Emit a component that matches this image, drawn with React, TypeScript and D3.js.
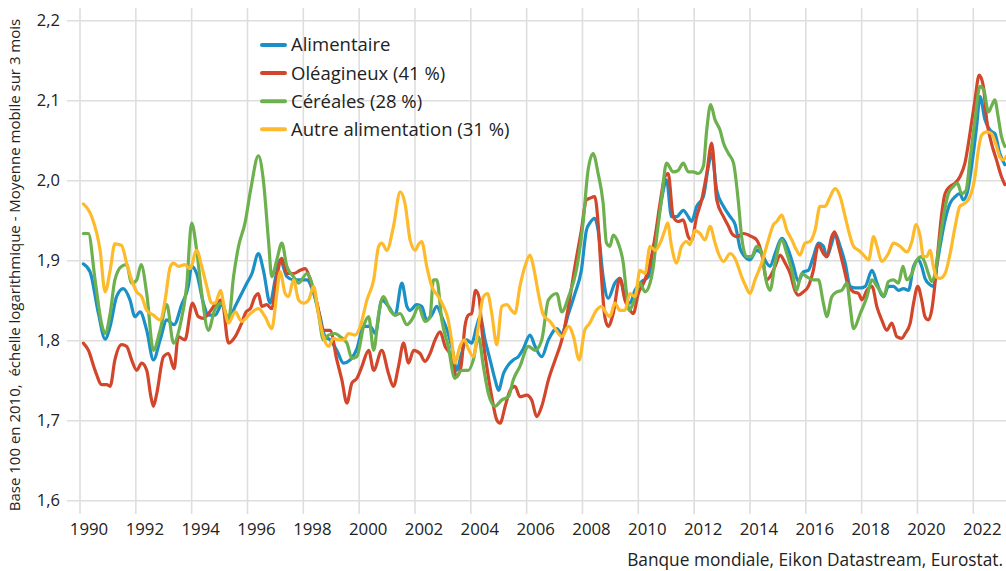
import React from "react";
import * as d3 from "d3";

// ---- Data (decimal year, value) ----
const alimentaire: [number, number][] = [
  [1990.12,1.896],[1990.36,1.886],[1990.66,1.834],[1990.9,1.802],[1991.08,1.818],[1991.31,1.855],[1991.55,1.865],[1991.79,1.851],[1991.97,1.83],[1992.15,1.836],[1992.39,1.813],[1992.63,1.776],[1992.87,1.801],[1993.11,1.826],[1993.37,1.82],[1993.64,1.845],[1993.88,1.868],[1994.0,1.893],[1994.18,1.884],[1994.42,1.847],[1994.6,1.832],[1994.84,1.832],[1995.08,1.845],[1995.32,1.826],[1995.56,1.843],[1995.79,1.859],
  [1995.98,1.872],[1996.16,1.884],[1996.39,1.909],[1996.57,1.888],[1996.81,1.847],[1996.99,1.876],[1997.17,1.901],[1997.41,1.88],[1997.65,1.876],[1997.89,1.876],[1998.13,1.876],[1998.37,1.859],[1998.6,1.83],[1998.78,1.805],[1998.96,1.801],[1999.2,1.788],[1999.44,1.772],[1999.68,1.776],[1999.92,1.79],[2000.16,1.818],[2000.4,1.818],[2000.58,1.809],[2000.81,1.851],[2001.05,1.843],[2001.29,1.832],[2001.53,1.872],[2001.71,1.843],
  [2001.82,1.838],[2002.06,1.845],[2002.24,1.843],[2002.42,1.826],[2002.6,1.832],[2002.78,1.843],[2002.96,1.83],[2003.19,1.809],[2003.37,1.784],[2003.49,1.763],[2003.67,1.784],[2003.85,1.801],[2004.03,1.797],[2004.21,1.818],[2004.33,1.83],[2004.51,1.801],[2004.69,1.776],[2004.87,1.751],[2004.99,1.738],[2005.17,1.759],[2005.35,1.77],[2005.52,1.776],[2005.7,1.78],[2005.88,1.79],[2006.12,1.807],[2006.3,1.793],[2006.54,1.78],[2006.78,1.801],[2007.08,1.815],[2007.26,1.809],[2007.5,1.834],
  [2007.73,1.859],[2007.96,1.888],[2008.14,1.938],[2008.26,1.947],[2008.44,1.953],[2008.56,1.938],[2008.74,1.88],[2008.92,1.853],[2009.16,1.872],[2009.34,1.878],[2009.52,1.855],[2009.7,1.847],[2009.88,1.863],[2010.12,1.874],[2010.36,1.88],[2010.6,1.926],[2010.83,1.976],[2011.01,2.001],[2011.19,1.955],[2011.37,1.955],[2011.61,1.963],[2011.79,1.955],[2011.91,1.949],[2012.09,1.968],[2012.33,1.98],[2012.51,2.018],[2012.63,2.034],[2012.81,1.988],[2013.05,1.968],[2013.29,1.955],[2013.47,1.945],
  [2013.65,1.915],[2013.82,1.905],[2014.0,1.901],[2014.24,1.913],[2014.42,1.909],[2014.6,1.897],[2014.72,1.893],[2014.9,1.909],[2015.14,1.928],[2015.38,1.913],[2015.56,1.893],[2015.73,1.874],[2015.91,1.886],[2016.09,1.888],[2016.27,1.905],[2016.45,1.922],[2016.63,1.918],[2016.75,1.905],[2016.93,1.922],[2017.05,1.934],[2017.23,1.918],[2017.41,1.897],[2017.59,1.868],[2017.77,1.866],[2017.95,1.866],[2018.13,1.868],[2018.37,1.888],[2018.55,1.872],[2018.72,1.857],
  [2018.79,1.855],[2018.96,1.868],[2019.14,1.868],[2019.32,1.863],[2019.5,1.865],[2019.68,1.863],[2019.86,1.893],[2020.04,1.901],[2020.15,1.893],[2020.27,1.878],[2020.45,1.87],[2020.57,1.868],[2020.69,1.893],[2020.81,1.918],[2020.99,1.951],[2021.17,1.972],[2021.35,1.98],[2021.52,1.984],[2021.64,1.976],[2021.79,1.986],[2021.94,2.018],[2022.12,2.068],[2022.24,2.105],[2022.42,2.076],[2022.6,2.063],[2022.77,2.059],[2022.95,2.034],[2023.13,2.02],
];

const oleagineux: [number, number][] = [
  [1990.12,1.797],[1990.3,1.788],[1990.54,1.763],[1990.78,1.745],[1990.96,1.745],[1991.08,1.743],[1991.25,1.776],[1991.49,1.795],[1991.67,1.793],[1991.85,1.776],[1992.03,1.763],[1992.21,1.772],[1992.39,1.763],[1992.54,1.73],[1992.63,1.718],[1992.75,1.734],[1992.99,1.78],[1993.17,1.784],[1993.37,1.765],[1993.52,1.805],[1993.76,1.801],[1994.03,1.847],[1994.24,1.83],[1994.42,1.828],[1994.6,1.834],[1994.84,1.845],[1995.08,1.851],[1995.32,1.797],[1995.56,1.805],[1995.79,1.822],[1995.95,1.836],
  [1996.1,1.84],[1996.27,1.855],[1996.39,1.859],[1996.51,1.843],[1996.69,1.845],[1996.87,1.84],[1997.05,1.88],[1997.23,1.903],[1997.41,1.884],[1997.65,1.884],[1997.89,1.888],[1998.07,1.89],[1998.25,1.876],[1998.49,1.847],[1998.72,1.813],[1998.96,1.813],[1999.2,1.776],[1999.38,1.751],[1999.56,1.722],[1999.74,1.747],[1999.92,1.753],[2000.1,1.768],[2000.34,1.788],[2000.52,1.763],[2000.81,1.788],[2001.05,1.759],[2001.23,1.743],[2001.41,1.768],[2001.59,1.797],[2001.77,1.772],[2001.95,1.788],
  [2002.18,1.784],[2002.36,1.774],[2002.54,1.784],[2002.72,1.801],[2002.9,1.811],[2003.08,1.793],[2003.31,1.78],[2003.49,1.755],[2003.65,1.768],[2003.79,1.818],[2003.91,1.832],[2004.03,1.834],[2004.17,1.863],[2004.29,1.855],[2004.41,1.809],[2004.57,1.768],[2004.75,1.73],[2004.93,1.701],[2005.05,1.697],[2005.23,1.718],[2005.41,1.738],[2005.58,1.743],[2005.76,1.73],[2006.0,1.732],[2006.18,1.726],[2006.36,1.705],[2006.54,1.718],[2006.78,1.751],[2007.02,1.776],[2007.26,1.801],[2007.5,1.843],[2007.73,1.893],
  [2007.96,1.938],[2008.14,1.976],[2008.26,1.978],[2008.44,1.98],[2008.56,1.947],[2008.68,1.88],[2008.8,1.83],[2008.92,1.818],[2009.1,1.834],[2009.34,1.878],[2009.52,1.851],[2009.7,1.838],[2009.82,1.834],[2010.0,1.859],[2010.24,1.876],[2010.42,1.897],[2010.6,1.93],[2010.78,1.972],[2010.95,2.005],[2011.07,2.009],[2011.25,1.955],[2011.43,1.949],[2011.61,1.951],[2011.79,1.93],[2011.91,1.926],[2012.09,1.955],[2012.27,1.976],[2012.45,2.009],[2012.63,2.047],[2012.81,1.976],[2013.05,1.955],[2013.23,1.943],[2013.35,1.934],[2013.53,1.93],[2013.77,1.934],
  [2014.06,1.93],[2014.24,1.926],[2014.42,1.909],[2014.6,1.876],[2014.72,1.88],[2014.9,1.893],[2015.08,1.907],[2015.26,1.897],[2015.44,1.884],[2015.61,1.863],[2015.73,1.857],[2015.91,1.861],[2016.09,1.868],[2016.27,1.888],[2016.45,1.92],[2016.63,1.909],[2016.75,1.905],[2016.93,1.93],[2017.03,1.936],[2017.17,1.918],[2017.35,1.893],[2017.53,1.868],[2017.71,1.861],[2017.89,1.859],[2018.01,1.851],[2018.19,1.863],[2018.37,1.868],[2018.55,1.842],[2018.72,1.826],[2018.9,1.813],[2019.08,1.822],[2019.26,1.805],[2019.44,1.803],
  [2019.56,1.809],[2019.74,1.822],[2019.86,1.847],[2020.01,1.868],[2020.15,1.851],[2020.27,1.83],[2020.39,1.826],[2020.51,1.838],[2020.63,1.872],[2020.75,1.918],[2020.87,1.959],[2020.99,1.984],[2021.17,1.993],[2021.35,1.997],[2021.52,2.005],[2021.7,2.022],[2021.88,2.059],[2022.06,2.101],[2022.21,2.132],[2022.36,2.118],[2022.48,2.076],[2022.65,2.047],[2022.83,2.026],[2023.01,2.005],[2023.13,1.995],
];

const cereales: [number, number][] = [
  [1990.12,1.934],[1990.3,1.934],[1990.54,1.876],[1990.78,1.82],[1990.9,1.809],[1991.08,1.834],[1991.25,1.876],[1991.49,1.893],[1991.67,1.895],[1991.85,1.872],[1992.03,1.876],[1992.19,1.895],[1992.39,1.859],[1992.63,1.788],[1992.87,1.813],[1993.11,1.845],[1993.35,1.797],[1993.58,1.818],[1993.82,1.868],[1994.0,1.947],[1994.18,1.913],[1994.36,1.859],[1994.6,1.813],[1994.84,1.84],[1995.08,1.847],[1995.32,1.826],[1995.5,1.88],[1995.68,1.918],[1995.91,1.947],[1996.12,1.99],
  [1996.39,2.031],[1996.57,2.0],[1996.75,1.926],[1996.87,1.88],[1997.05,1.901],[1997.23,1.922],[1997.41,1.893],[1997.65,1.88],[1997.83,1.872],[1998.13,1.884],[1998.37,1.863],[1998.54,1.834],[1998.72,1.801],[1998.9,1.807],[1999.14,1.809],[1999.32,1.805],[1999.56,1.797],[1999.74,1.778],[1999.92,1.78],[2000.16,1.818],[2000.34,1.83],[2000.52,1.788],[2000.7,1.834],[2000.87,1.855],[2001.11,1.838],[2001.29,1.832],[2001.47,1.834],[2001.71,1.82],[2001.95,1.83],
  [2002.12,1.843],[2002.36,1.824],[2002.54,1.83],[2002.66,1.876],[2002.78,1.876],[2002.96,1.826],[2003.19,1.793],[2003.43,1.753],[2003.67,1.763],[2003.91,1.763],[2004.09,1.776],[2004.27,1.805],[2004.45,1.768],[2004.63,1.734],[2004.87,1.718],[2005.11,1.726],[2005.35,1.73],[2005.52,1.751],[2005.76,1.768],[2006.06,1.793],[2006.3,1.788],[2006.54,1.801],[2006.78,1.851],[2007.08,1.859],[2007.26,1.836],[2007.5,1.855],
  [2007.78,1.888],[2008.02,1.947],[2008.2,2.013],[2008.38,2.034],[2008.56,2.009],[2008.74,1.972],[2008.86,1.922],[2008.98,1.918],[2009.1,1.932],[2009.28,1.922],[2009.46,1.897],[2009.58,1.859],[2009.67,1.838],[2009.82,1.847],[2010.06,1.872],[2010.24,1.861],[2010.42,1.872],[2010.54,1.893],[2010.66,1.93],[2010.83,1.976],[2011.01,2.022],[2011.25,2.011],[2011.43,2.013],[2011.61,2.022],[2011.79,2.011],[2011.97,2.011],[2012.15,2.009],[2012.33,2.018],[2012.45,2.063],[2012.59,2.095],[2012.75,2.076],[2012.93,2.063],[2013.05,2.047],[2013.23,2.034],[2013.41,2.022],
  [2013.58,1.975],[2013.7,1.93],[2013.88,1.905],[2014.06,1.905],[2014.24,1.918],[2014.42,1.909],[2014.6,1.872],[2014.72,1.863],[2014.9,1.897],[2015.14,1.926],[2015.32,1.909],[2015.5,1.888],[2015.67,1.863],[2015.85,1.884],[2016.03,1.88],[2016.27,1.876],[2016.45,1.876],[2016.63,1.847],[2016.75,1.83],[2016.93,1.855],[2017.11,1.861],[2017.29,1.863],[2017.47,1.872],[2017.59,1.842],[2017.71,1.815],[2017.95,1.834],[2018.19,1.855],[2018.37,1.876],[2018.55,1.868],[2018.72,1.859],
  [2018.79,1.855],[2018.96,1.874],[2019.14,1.876],[2019.32,1.872],[2019.48,1.893],[2019.62,1.876],[2019.8,1.884],[2019.98,1.901],[2020.15,1.905],[2020.27,1.897],[2020.39,1.884],[2020.51,1.874],[2020.63,1.884],[2020.75,1.913],[2020.93,1.955],[2021.11,1.984],[2021.29,1.993],[2021.43,1.997],[2021.58,1.984],[2021.74,1.988],[2021.88,2.026],[2022.06,2.076],[2022.24,2.118],[2022.38,2.113],[2022.54,2.086],[2022.65,2.093],[2022.77,2.101],[2022.89,2.08],[2023.01,2.055],[2023.13,2.043],
];

const autre: [number, number][] = [
  [1990.12,1.971],[1990.42,1.955],[1990.72,1.913],[1990.9,1.861],[1991.08,1.888],[1991.25,1.921],[1991.49,1.919],[1991.67,1.897],[1991.85,1.876],[1992.03,1.861],[1992.21,1.855],[1992.39,1.838],[1992.63,1.832],[1992.87,1.826],[1993.05,1.851],[1993.23,1.892],[1993.35,1.897],[1993.52,1.893],[1993.76,1.895],[1993.94,1.89],[1994.18,1.913],[1994.36,1.893],[1994.54,1.868],[1994.72,1.847],[1994.84,1.847],[1995.04,1.863],[1995.14,1.847],[1995.32,1.822],[1995.56,1.836],[1995.79,1.824],
  [1996.1,1.834],[1996.39,1.84],[1996.63,1.83],[1996.87,1.815],[1997.05,1.859],[1997.17,1.886],[1997.35,1.859],[1997.47,1.855],[1997.65,1.876],[1997.83,1.851],[1998.01,1.847],[1998.19,1.851],[1998.37,1.868],[1998.54,1.834],[1998.72,1.805],[1998.9,1.793],[1999.08,1.803],[1999.26,1.801],[1999.44,1.801],[1999.62,1.809],[1999.86,1.807],[2000.04,1.818],[2000.28,1.851],[2000.52,1.876],[2000.7,1.918],[2000.81,1.922],[2000.99,1.913],[2001.23,1.943],[2001.47,1.986],[2001.65,1.97],[2001.83,1.925],[2002.01,1.913],
  [2002.12,1.92],[2002.24,1.924],[2002.42,1.893],[2002.6,1.868],[2002.84,1.855],[2003.02,1.843],[2003.19,1.826],[2003.31,1.801],[2003.43,1.772],[2003.61,1.793],[2003.77,1.801],[2003.91,1.79],[2004.09,1.78],[2004.27,1.818],[2004.45,1.855],[2004.6,1.859],[2004.75,1.834],[2004.93,1.795],[2005.11,1.843],[2005.29,1.845],[2005.46,1.838],[2005.58,1.834],[2005.76,1.868],[2005.94,1.893],[2006.12,1.907],[2006.24,1.893],[2006.42,1.859],[2006.6,1.832],[2006.84,1.824],[2007.02,1.815],[2007.26,1.805],[2007.5,1.818],[2007.68,1.805],[2007.88,1.776],
  [2008.08,1.813],[2008.26,1.822],[2008.5,1.838],[2008.68,1.843],[2008.86,1.834],[2008.98,1.83],[2009.16,1.847],[2009.34,1.838],[2009.52,1.838],[2009.7,1.859],[2009.88,1.855],[2010.06,1.888],[2010.24,1.884],[2010.42,1.918],[2010.6,1.913],[2010.78,1.922],[2010.95,1.938],[2011.05,1.947],[2011.19,1.918],[2011.37,1.897],[2011.55,1.918],[2011.73,1.924],[2011.85,1.92],[2012.03,1.938],[2012.21,1.934],[2012.39,1.926],[2012.57,1.943],[2012.75,1.922],[2012.87,1.909],[2013.05,1.899],[2013.29,1.909],[2013.5,1.9],[2013.7,1.88],[2013.85,1.868],
  [2014.0,1.859],[2014.18,1.876],[2014.42,1.897],[2014.66,1.926],[2014.84,1.945],[2014.96,1.949],[2015.14,1.957],[2015.32,1.938],[2015.5,1.926],[2015.67,1.913],[2015.79,1.907],[2015.97,1.922],[2016.15,1.924],[2016.33,1.938],[2016.51,1.968],[2016.69,1.968],[2016.87,1.98],[2017.05,1.99],[2017.23,1.98],[2017.41,1.955],[2017.59,1.93],[2017.71,1.918],[2017.89,1.913],[2018.07,1.907],[2018.25,1.901],[2018.43,1.93],[2018.55,1.918],[2018.72,1.899],
  [2018.96,1.909],[2019.14,1.922],[2019.38,1.918],[2019.62,1.911],[2019.8,1.924],[2019.95,1.945],[2020.1,1.93],[2020.21,1.905],[2020.33,1.905],[2020.45,1.913],[2020.57,1.893],[2020.67,1.88],[2020.81,1.878],[2020.99,1.884],[2021.17,1.909],[2021.35,1.943],[2021.52,1.968],[2021.7,1.972],[2021.88,1.98],[2022.06,2.005],[2022.18,2.038],[2022.3,2.057],[2022.48,2.061],[2022.65,2.059],[2022.83,2.043],[2022.95,2.03],[2023.07,2.026],[2023.17,2.03],
];

const seriesNames = ["Alimentaire", "Oléagineux (41 %)", "Céréales (28 %)", "Autre alimentation (31 %)"];
const seriesColors = ["#1b90c7", "#d2462b", "#6cb14e", "#fdba2b"];
const seriesData = [alimentaire, oleagineux, cereales, autre];

const xTicks = d3.range(1990, 2023, 2);
const yTicks = [1.6, 1.7, 1.8, 1.9, 2.0, 2.1, 2.2];

const yTitle = "Base 100 en 2010,  échelle logarithmique - Moyenne mobile sur 3 mois";
const source = "Banque mondiale, Eikon Datastream, Eurostat.";

const W = 1006;
const H = 571;

export default function App() {
  const x = d3.scaleLinear().domain([1990, 2022]).range([80, 973.3]);
  const y = d3.scaleLinear().domain([1.6, 2.2]).range([500.7, 20.7]);
  const line = d3
    .line<[number, number]>()
    .x((d) => x(d[0]))
    .y((d) => y(d[1]))
    .curve(d3.curveMonotoneX);
  const fmt = (v: number) => v.toFixed(1).replace(".", ",");
  const font = "'Open Sans', sans-serif";

  return (
    <svg
      width={W}
      height={H}
      style={{ position: "absolute", left: 0, top: 0, background: "#fff" }}
    >
      <g>
        {xTicks.map((t) => (
          <line key={"vx" + t} x1={x(t)} x2={x(t)} y1={8} y2={514} stroke="#dedede" strokeWidth={1.6} />
        ))}
        {yTicks.map((v) => (
          <line key={"hy" + v} x1={67} x2={W} y1={y(v)} y2={y(v)} stroke="#dedede" strokeWidth={1.6} />
        ))}
      </g>
      <g fill="#222" fontFamily={font}>
        {yTicks.map((v) => (
          <text key={"yl" + v} x={60} y={y(v)} dy="0.35em" textAnchor="end" fontSize={16.5}>
            {fmt(v)}
          </text>
        ))}
        {xTicks.map((t) => (
          <text key={"xl" + t} x={x(t) + 9} y={529} dy="0.35em" textAnchor="middle" fontSize={16.8}>
            {t}
          </text>
        ))}
        <text
          transform={`translate(15, 265) rotate(-90)`}
          textAnchor="middle"
          dy="0.35em"
          fontSize={15}
          style={{ whiteSpace: "pre" }}
        >
          {yTitle}
        </text>
        <text x={1003} y={560} dy="0.35em" textAnchor="end" fontSize={17.3}>
          {source}
        </text>
      </g>
      <g fill="none" strokeLinejoin="round" strokeLinecap="round">
        {seriesData.map((s, i) => (
          <path key={"s" + i} d={line(s) || ""} stroke={seriesColors[i]} strokeWidth={3.2} />
        ))}
      </g>
      <g fontFamily={font}>
        {seriesNames.map((n, i) => (
          <g key={"lg" + i} transform={`translate(0, ${45 + i * 28.1})`}>
            <rect x={260} y={-2} width={27} height={4} rx={2} fill={seriesColors[i]} />
            <text x={291} y={0} dy="0.35em" fontSize={18.5} fill="#222">
              {n}
            </text>
          </g>
        ))}
      </g>
    </svg>
  );
}
